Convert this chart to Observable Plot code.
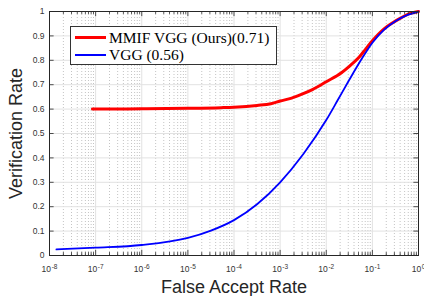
<!DOCTYPE html>
<html><head><meta charset="utf-8">
<script src="https://cdn.jsdelivr.net/npm/d3@7"></script>
<script src="https://cdn.jsdelivr.net/npm/@observablehq/plot@0.6"></script>
<style>
body{margin:0;background:#fff;}
#wrap{position:relative;width:424px;height:296px;}
#legend{position:absolute;left:70px;top:26px;width:207px;height:39px;box-sizing:border-box;border:1px solid #333;background:#fff;font-family:"Liberation Serif","Times New Roman",serif;font-size:15.5px;color:#000;}
#legend .row{position:absolute;left:0;height:17px;width:205px;}
#legend .sw{position:absolute;left:4px;width:31px;}
#legend .lab{position:absolute;left:38px;white-space:nowrap;line-height:17px;}
</style>
</head><body>
<div id="wrap"></div>
<script>
// ---- data (log10 of False Accept Rate, Verification Rate) ----
const seriesNames = ["MMIF VGG (Ours)(0.71)", "VGG (0.56)"];
const seriesColors = ["#ff0000", "#0000ff"];
const mmifLogFar = [-7.07, -6, -5, -4.28, -4, -3.5, -3.2, -3, -2.75, -2.54, -2.3, -2, -1.67, -1.5, -1.3, -1.15, -1, -0.74, -0.55, -0.37, -0.18, 0];
const mmifTpr    = [0.600, 0.601, 0.603, 0.606, 0.608, 0.615, 0.622, 0.633, 0.645, 0.660, 0.680, 0.712, 0.749, 0.775, 0.810, 0.845, 0.880, 0.930, 0.955, 0.975, 0.992, 1.000];
const vggLogFar  = [-7.85, -7, -6, -5, -4.5, -4, -3.5, -3, -2.5, -2, -1.75, -1.5, -1.25, -1, -0.75, -0.5, -0.25, 0];
const vggTpr     = [0.025, 0.032, 0.043, 0.072, 0.102, 0.145, 0.210, 0.300, 0.415, 0.555, 0.637, 0.720, 0.800, 0.872, 0.925, 0.960, 0.985, 1.000];
const yTicks = [0, 0.1, 0.2, 0.3, 0.4, 0.5, 0.6, 0.7, 0.8, 0.9, 1];
const xExponents = [-8, -7, -6, -5, -4, -3, -2, -1, 0];

const mmif = mmifLogFar.map((e, i) => ({far: 10 ** e, tpr: mmifTpr[i]}));
const vgg = vggLogFar.map((e, i) => ({far: 10 ** e, tpr: vggTpr[i]}));
const decades = xExponents.map(e => 10 ** e);
const minor = xExponents.slice(0, -1).flatMap(e => d3.range(2, 10).map(m => m * 10 ** e));

const ink = "#262626";
const chart = Plot.plot({
  width: 424, height: 296,
  marginLeft: 49, marginRight: 6, marginTop: 11, marginBottom: 41,
  x: {type: "log", domain: [1e-8, 1]},
  y: {domain: [0, 1]},
  style: {background: "#fff", fontFamily: "Liberation Sans, Arial, sans-serif", fontSize: "8.5px", color: ink},
  marks: [
    Plot.ruleX(minor, {stroke: "#b5b5b5", strokeDasharray: "1,2", strokeWidth: 0.8}),
    Plot.ruleX(decades, {stroke: "#e2e2e2", strokeWidth: 1}),
    Plot.ruleY(yTicks, {stroke: "#e2e2e2", strokeWidth: 1}),
    Plot.line(mmif, {x: "far", y: "tpr", stroke: seriesColors[0], strokeWidth: 3, curve: "monotone-x"}),
    Plot.line(vgg, {x: "far", y: "tpr", stroke: seriesColors[1], strokeWidth: 1.8, curve: "monotone-x"}),
    // inward ticks (MATLAB style)
    Plot.ruleX(decades, {y1: 0, y2: 0.021, stroke: ink, strokeWidth: 0.8}),
    Plot.ruleX(minor, {y1: 0, y2: 0.012, stroke: ink, strokeWidth: 0.8}),
    Plot.ruleX(decades, {y1: 1, y2: 0.979, stroke: ink, strokeWidth: 0.8}),
    Plot.ruleX(minor, {y1: 1, y2: 0.988, stroke: ink, strokeWidth: 0.8}),
    Plot.ruleY(yTicks, {x1: 1e-8, x2: 10 ** -7.9, stroke: ink, strokeWidth: 0.8}),
    Plot.ruleY(yTicks, {x1: 1, x2: 10 ** -0.1, stroke: ink, strokeWidth: 0.8}),
    Plot.frame({stroke: ink, strokeWidth: 1}),
    Plot.axisY({ticks: yTicks, tickSize: 0, tickPadding: 5, tickFormat: d => String(d), label: null, fill: "#333"}),
    Plot.axisX({ticks: decades, tickSize: 0, tickPadding: 10, tickFormat: d => "10^" + Math.round(Math.log10(d)), label: null, fill: "#333"}),
    Plot.text(["Verification Rate"], {frameAnchor: "left", textAnchor: "middle", lineAnchor: "middle", rotate: -90, dx: -33, fontSize: 18, fill: ink}),
    Plot.text(["False Accept Rate"], {frameAnchor: "bottom", textAnchor: "middle", lineAnchor: "middle", dy: 32, fontSize: 18, fill: ink})
  ]
});

// superscript exponents on x tick labels
d3.select(chart).selectAll('g[aria-label="x-axis tick label"] text').each(function() {
  const t = this.textContent;
  if (!t.startsWith("10^")) return;
  const exp = t.slice(3);
  const sel = d3.select(this);
  sel.text(null);
  sel.append("tspan").text("10");
  sel.append("tspan").attr("dx", "0.6").attr("dy", "-0.45em").attr("font-size", "6.5px").text(exp);
});

const wrap = document.getElementById("wrap");
wrap.appendChild(chart);

// legend
const legend = document.createElement("div");
legend.id = "legend";
seriesNames.forEach((name, i) => {
  const row = document.createElement("div");
  row.className = "row";
  row.style.top = (2 + i * 17) + "px";
  const sw = document.createElement("div");
  sw.className = "sw";
  sw.style.background = seriesColors[i];
  const th = i === 0 ? 3 : 2;
  sw.style.height = th + "px";
  sw.style.top = (8.5 - th / 2) + "px";
  const lab = document.createElement("div");
  lab.className = "lab";
  lab.textContent = name;
  row.appendChild(sw);
  row.appendChild(lab);
  legend.appendChild(row);
});
wrap.appendChild(legend);
</script>
</body></html>
